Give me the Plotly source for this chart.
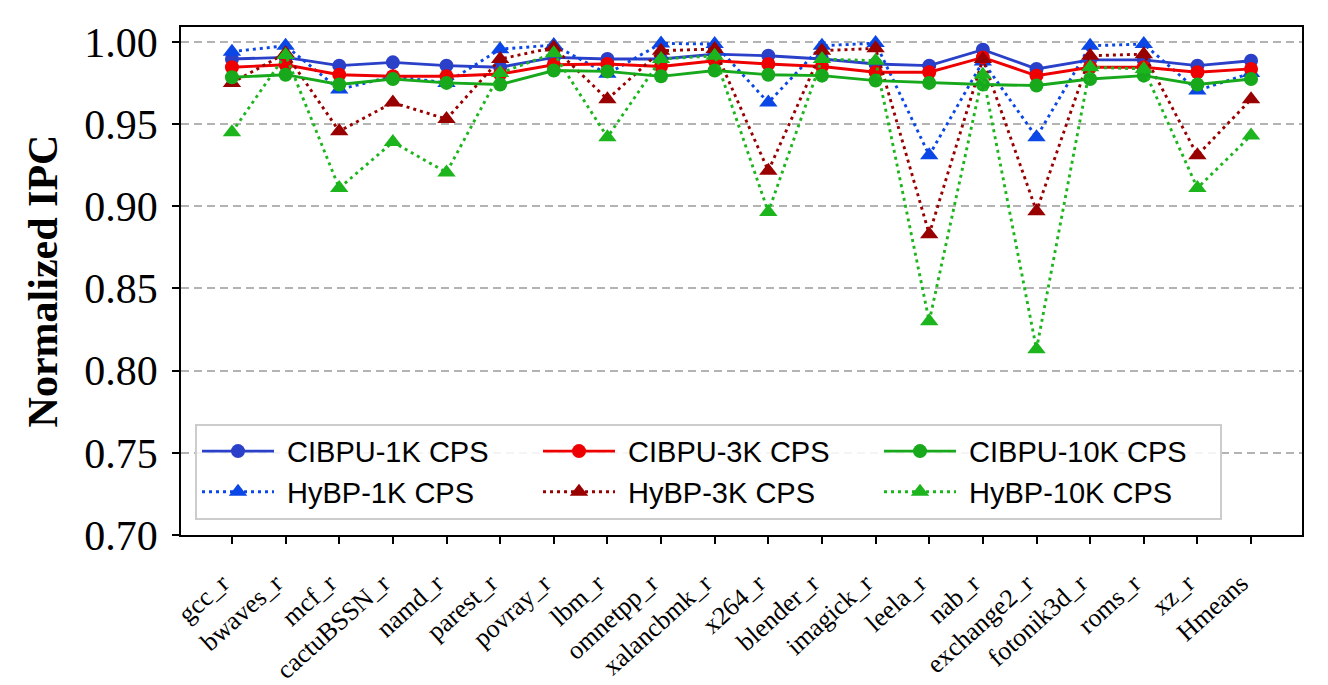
import plotly.graph_objects as go

categories = ["gcc_r", "bwaves_r", "mcf_r", "cactuBSSN_r", "namd_r", "parest_r", "povray_r",
              "lbm_r", "omnetpp_r", "xalancbmk_r", "x264_r", "blender_r", "imagick_r", "leela_r",
              "nab_r", "exchange2_r", "fotonik3d_r", "roms_r", "xz_r", "Hmeans"]

cibpu_1k = [0.9895, 0.9905, 0.9855, 0.9875, 0.9855, 0.9845, 0.9905, 0.9895, 0.9895, 0.9925,
            0.9915, 0.9895, 0.9865, 0.9855, 0.9952, 0.9835, 0.9890, 0.9890, 0.9855, 0.9885]
hybp_1k = [0.9940, 0.9976, 0.9710, 0.9790, 0.9750, 0.9955, 0.9980, 0.9805, 0.9990, 0.9986,
           0.9630, 0.9976, 0.9992, 0.9310, 0.9880, 0.9420, 0.9976, 0.9986, 0.9704, 0.9810]
cibpu_3k = [0.9845, 0.9860, 0.9800, 0.9790, 0.9790, 0.9804, 0.9860, 0.9865, 0.9850, 0.9885,
            0.9865, 0.9850, 0.9815, 0.9815, 0.9905, 0.9794, 0.9845, 0.9845, 0.9815, 0.9835]
hybp_3k = [0.9750, 0.9930, 0.9456, 0.9630, 0.9530, 0.9895, 0.9965, 0.9650, 0.9946, 0.9956,
           0.9215, 0.9946, 0.9960, 0.8830, 0.9895, 0.8970, 0.9915, 0.9925, 0.9310, 0.9650]
cibpu_10k = [0.9784, 0.9800, 0.9740, 0.9774, 0.9750, 0.9740, 0.9825, 0.9820, 0.9790, 0.9825,
             0.9800, 0.9794, 0.9764, 0.9750, 0.9740, 0.9734, 0.9774, 0.9794, 0.9740, 0.9774]
hybp_10k = [0.9450, 0.9920, 0.9110, 0.9390, 0.9205, 0.9810, 0.9930, 0.9420, 0.9895, 0.9915,
            0.8965, 0.9895, 0.9885, 0.8300, 0.9800, 0.8130, 0.9845, 0.9835, 0.9110, 0.9430]

y_ticks = [0.70, 0.75, 0.80, 0.85, 0.90, 0.95, 1.00]

series = [
    ("CIBPU-1K CPS", cibpu_1k, "#2a40c8", "solid", "circle", 1),
    ("HyBP-1K CPS", hybp_1k, "#0a47e6", "3px,4px", "triangle-up", 4),
    ("CIBPU-3K CPS", cibpu_3k, "#ee0000", "solid", "circle", 2),
    ("HyBP-3K CPS", hybp_3k, "#990000", "3px,4px", "triangle-up", 5),
    ("CIBPU-10K CPS", cibpu_10k, "#17a81c", "solid", "circle", 3),
    ("HyBP-10K CPS", hybp_10k, "#1db51d", "3px,4px", "triangle-up", 6),
]

x_idx = list(range(len(categories)))

fig = go.Figure()
for name, vals, color, dash, sym, rank in series:
    fig.add_trace(go.Scatter(
        x=x_idx, y=vals, name=" " + name, mode="lines+markers",
        line=dict(color=color, width=2.9, dash=dash),
        marker=dict(symbol=sym, size=14 if sym == "circle" else 16, color=color,
                    line=dict(width=0)),
        legendrank=rank,
    ))

serif = "Liberation Serif, Times New Roman, serif"

fig.update_layout(
    width=1328, height=685,
    margin=dict(l=173, r=34, t=19, b=158, autoexpand=False),
    paper_bgcolor="white", plot_bgcolor="white",
    showlegend=True,
    legend=dict(
        orientation="h", x=0.0125, y=0.03, xanchor="left", yanchor="bottom",
        entrywidth=254, entrywidthmode="pixels",
        font=dict(family="Liberation Sans, Arial, sans-serif", size=29, color="black"),
        bgcolor="rgba(255,255,255,0.85)", bordercolor="#cccccc", borderwidth=2,
        itemwidth=72,
    ),
    xaxis=dict(
        range=[-0.95, 19.95], tickmode="array", tickvals=x_idx, ticktext=categories,
        tickangle=-42, tickfont=dict(family=serif, size=26, color="black"),
        ticklabelstandoff=14, ticklabelshift=-10, automargin=False,
        showgrid=False, zeroline=False, showline=True, linecolor="black", linewidth=1.5,
        mirror=True, ticks="outside", ticklen=7, tickwidth=1.5, tickcolor="black",
    ),
    yaxis=dict(
        range=[0.70, 1.009], tickmode="array", tickvals=y_ticks,
        ticktext=[f"{v:.2f}" for v in y_ticks],
        tickfont=dict(family=serif, size=42, color="black"),
        ticklabelstandoff=6, automargin=False,
        title=dict(text="<b>Normalized IPC</b>", standoff=14,
                   font=dict(family=serif, size=42, color="black")),
        showgrid=True, gridcolor="#b3b3b3", gridwidth=1.5, griddash="8px,5px",
        zeroline=False, showline=True, linecolor="black", linewidth=1.5,
        mirror=True, ticks="outside", ticklen=7, tickwidth=1.5, tickcolor="black",
    ),
)

fig.write_html("out.html")
